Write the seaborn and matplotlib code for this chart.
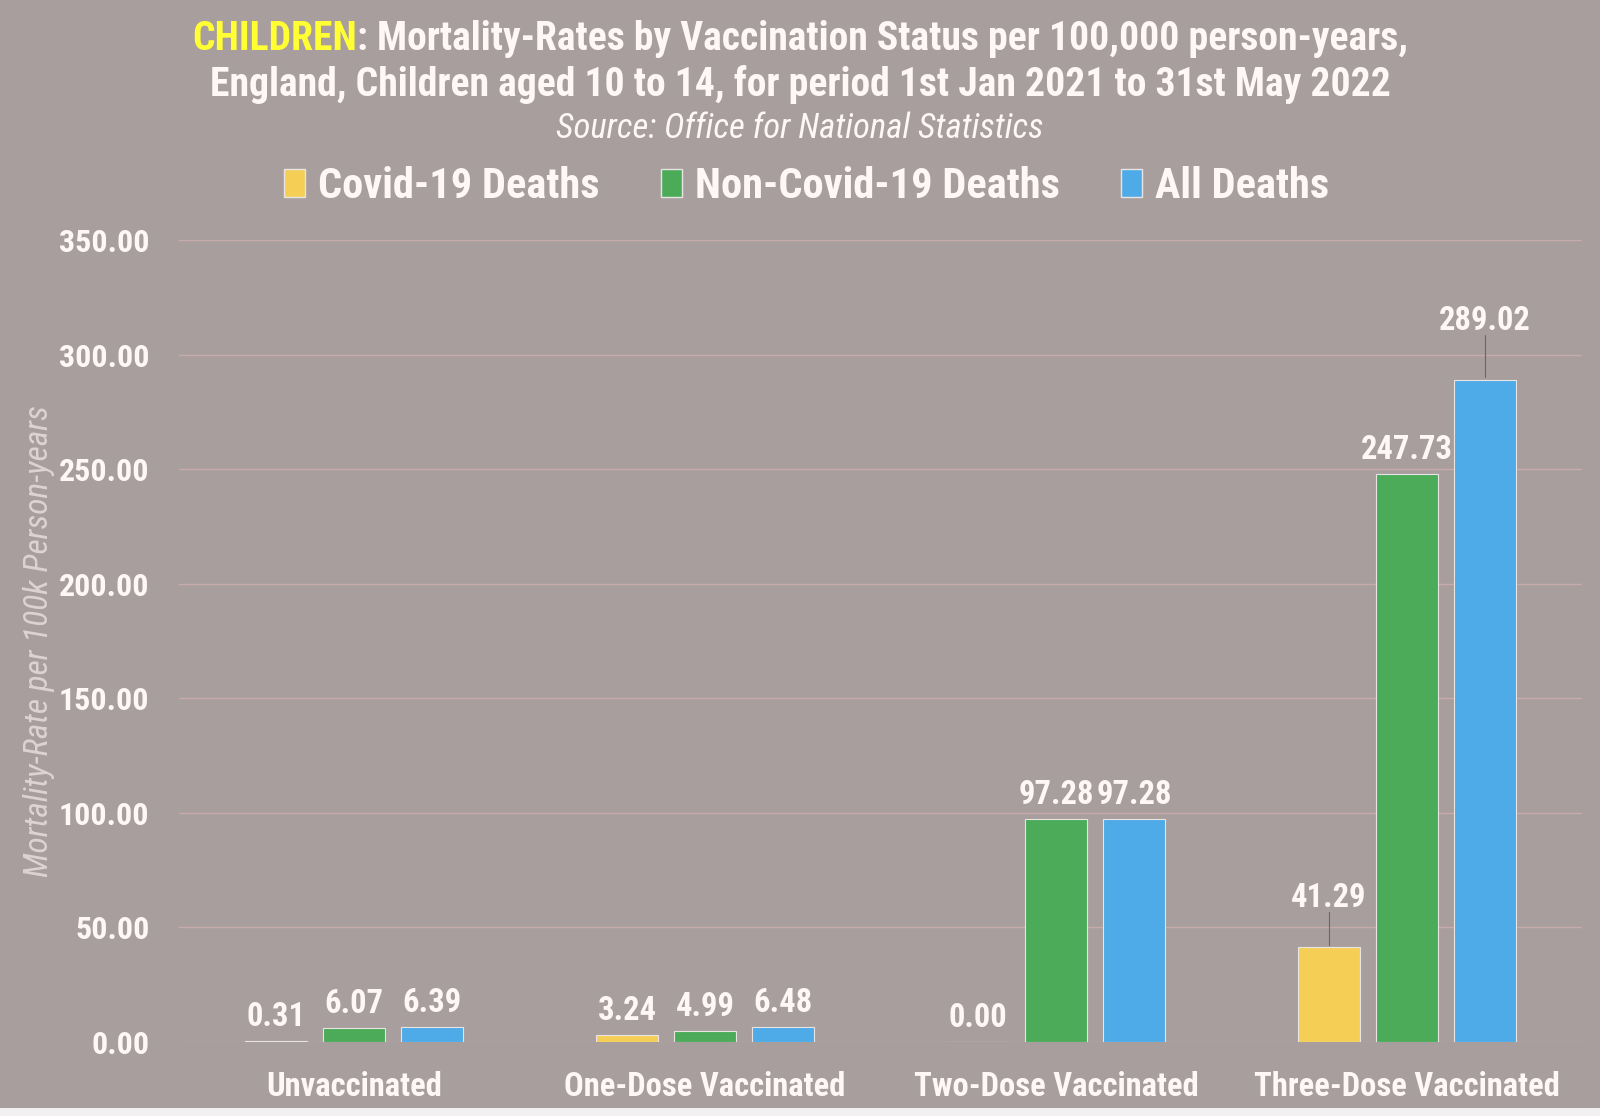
import numpy as np
import pandas as pd
import matplotlib
matplotlib.use('Agg')
import matplotlib.pyplot as plt
import seaborn as sns

statuses = ['Unvaccinated', 'One-Dose Vaccinated', 'Two-Dose Vaccinated', 'Three-Dose Vaccinated']
series = ['Covid-19 Deaths', 'Non-Covid-19 Deaths', 'All Deaths']
covid = [0.31, 3.24, 0.00, 41.29]
non_covid = [6.07, 4.99, 97.28, 247.73]
all_deaths = [6.39, 6.48, 97.28, 289.02]
yticks = [0, 50, 100, 150, 200, 250, 300, 350]

bg = '#a89e9e'
txt = '#fff6f6'
colors = ['#f5cf55', '#4cab58', '#4eabe8']

rows = []
for name, vals in zip(series, [covid, non_covid, all_deaths]):
    for s, v in zip(statuses, vals):
        rows.append({'Status': s, 'Series': name, 'Rate': v})
df = pd.DataFrame(rows)

sns.set_theme(style='white')
plt.rcParams['font.family'] = ['Roboto Condensed', 'Lato', 'DejaVu Sans']

fig = plt.figure(figsize=(16, 11.16), dpi=100, facecolor=bg)
ax = fig.add_axes([0.1116, 0.0663, 0.8774, 0.7187])
ax.set_facecolor(bg)

sns.barplot(data=df, x='Status', y='Rate', hue='Series', palette=colors, saturation=1,
            width=0.667, gap=0.21, edgecolor='#e8e4e4', linewidth=0.8,
            ax=ax, legend=False, zorder=3)

ax.set_ylim(0, 350)
ax.set_xlim(-0.5, 3.5)
ax.set_yticks(yticks)
ax.set_yticklabels([f'{t:.2f}' for t in yticks], color=txt, fontsize=23, fontweight='bold')
ax.tick_params(axis='y', length=0, pad=21)
ax.tick_params(axis='x', length=0, pad=21)
for lab in ax.get_xticklabels():
    lab.set_color(txt)
    lab.set_fontsize(23.5)
    lab.set_fontweight('bold')
for t in yticks:
    ax.axhline(t, color='#c9aaaa', lw=1.0, zorder=1)
for sp in ax.spines.values():
    sp.set_visible(False)
ax.set_xlabel('')
ax.set_ylabel('Mortality-Rate per 100k Person-years', color='#ddd3d3',
              fontsize=24, style='italic')
ax.yaxis.set_label_coords(-0.088, 0.5)

# value labels
for i, cont in enumerate(ax.containers):
    for j, bar in enumerate(cont):
        v = bar.get_height()
        xc = bar.get_x() + bar.get_width() / 2
        if i == 0 and j == 3:
            off = 21.5
        elif i == 2 and j == 3:
            off = 25.5
        else:
            off = 10.5
        ax.text(xc, v + off, f'{v:.2f}', ha='center', va='center',
                color=txt, fontsize=23.5, fontweight='bold', zorder=5)
        if off > 15:
            ax.plot([xc, xc], [v + 1, v + off - 6], color='#7a6060', lw=0.8, zorder=4)

# legend
handles = [plt.Rectangle((0, 0), 1, 1, facecolor=c, edgecolor='#e8e4e4') for c in colors]
leg = fig.legend(handles, series, loc='center', bbox_to_anchor=(0.504, 0.833), ncol=3,
                 frameon=False, fontsize=30.5, handlelength=0.5, handleheight=0.65,
                 handletextpad=0.3, columnspacing=1.45)
for t in leg.get_texts():
    t.set_color(txt)
    t.set_fontweight('bold')

# title
fig.canvas.draw()
r = fig.canvas.get_renderer()
y1 = 1 - 39 / 1116
part1 = fig.text(0, y1, 'CHILDREN', color='#ffff33', fontsize=28.5, fontweight='bold', va='center')
part2 = fig.text(0, y1, ': Mortality-Rates by Vaccination Status per 100,000 person-years,',
                 color=txt, fontsize=28.5, fontweight='bold', va='center')
w1 = part1.get_window_extent(r).width / fig.bbox.width
w2 = part2.get_window_extent(r).width / fig.bbox.width
x0 = 0.5 - (w1 + w2) / 2
part1.set_x(x0)
part2.set_x(x0 + w1)
fig.text(0.5, 1 - 85 / 1116, 'England, Children aged 10 to 14, for period 1st Jan 2021 to 31st May 2022',
         color=txt, fontsize=28.5, fontweight='bold', ha='center', va='center')
fig.text(0.5, 1 - 128 / 1116, 'Source: Office for National Statistics', color=txt,
         fontsize=25, style='italic', ha='center', va='center')

# bottom white strip
fig.patches.append(plt.Rectangle((0, 0), 1, 8 / 1116, transform=fig.transFigure,
                                 facecolor='#f2f0f0', edgecolor='none', zorder=0))

fig.savefig('out.png', dpi=100, facecolor=bg)
